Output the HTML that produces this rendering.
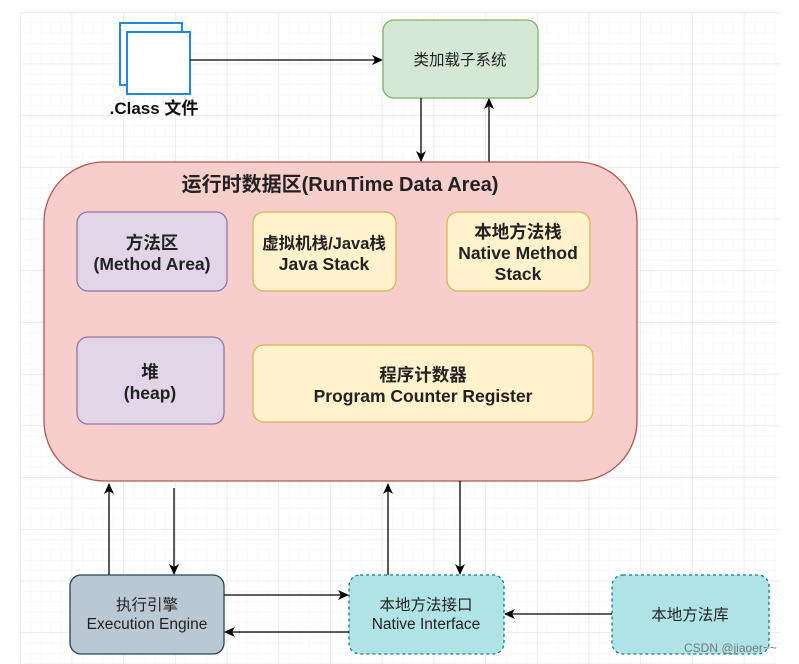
<!DOCTYPE html>
<html><head><meta charset="utf-8"><style>
html,body{margin:0;padding:0;background:#fff;}
svg{display:block;font-family:"Liberation Sans","Noto Sans CJK SC",sans-serif;}
</style></head><body>
<svg width="799" height="664" viewBox="0 0 799 664" xmlns="http://www.w3.org/2000/svg">
<defs>
<pattern id="minor" x="20" y="12" width="10.34" height="10.34" patternUnits="userSpaceOnUse">
<path d="M0 0V10.34M0 0H10.34" stroke="#f5f5f5" stroke-width="1" fill="none"/>
</pattern>
<pattern id="major" x="20" y="12" width="51.7" height="51.7" patternUnits="userSpaceOnUse">
<path d="M0 0V51.7M0 0H51.7" stroke="#e2e2e2" stroke-width="1" fill="none"/>
</pattern>
<marker id="a" markerWidth="12" markerHeight="12" refX="10" refY="6" orient="auto" markerUnits="userSpaceOnUse">
<path d="M0,1 L11,6 L0,11 L3,6 Z" fill="#000"/>
</marker>
</defs>
<rect x="20" y="12" width="760" height="652" fill="url(#minor)"/>
<rect x="20" y="12" width="760" height="652" fill="url(#major)"/>

<rect x="120" y="23" width="62" height="62" fill="#fff" stroke="#1e88e5" stroke-width="2"/>
<rect x="127" y="32" width="63" height="62" fill="#fff" stroke="#1e88e5" stroke-width="2"/>
<text x="154" y="114" font-size="17" font-weight="bold" text-anchor="middle" fill="#111">.Class 文件</text>
<line x1="190" y1="60" x2="382" y2="60" stroke="#000" stroke-width="1.3" marker-end="url(#a)"/>

<rect x="383" y="20" width="155" height="78" rx="11" fill="#d5e8d4" stroke="#82b366" stroke-width="1.3"/>
<text x="460" y="65" font-size="15.5" text-anchor="middle" fill="#222">类加载子系统</text>
<line x1="421" y1="98" x2="421" y2="161" stroke="#000" stroke-width="1.3" marker-end="url(#a)"/>
<line x1="489" y1="162" x2="489" y2="99" stroke="#000" stroke-width="1.3" marker-end="url(#a)"/>

<rect x="44" y="162" width="593" height="319" rx="60" fill="#f8cecc" stroke="#b85450" stroke-width="1.3"/>
<text x="340" y="191" font-size="20" font-weight="bold" text-anchor="middle" fill="#222">运行时数据区(RunTime Data Area)</text>

<rect x="77" y="212" width="150" height="79" rx="11" fill="#e1d5e7" stroke="#9673a6" stroke-width="1.3"/>
<text x="152" y="249" font-size="17.5" font-weight="bold" text-anchor="middle" fill="#222">方法区</text>
<text x="152" y="270" font-size="17.5" font-weight="bold" text-anchor="middle" fill="#222">(Method Area)</text>

<rect x="253" y="212" width="143" height="79" rx="11" fill="#fff2cc" stroke="#d6b656" stroke-width="1.3"/>
<text x="324" y="249" font-size="16.5" font-weight="bold" text-anchor="middle" fill="#222">虚拟机栈/Java栈</text>
<text x="324" y="270" font-size="17.5" font-weight="bold" text-anchor="middle" fill="#222">Java Stack</text>

<rect x="447" y="212" width="143" height="79" rx="11" fill="#fff2cc" stroke="#d6b656" stroke-width="1.3"/>
<text x="518" y="238" font-size="17.5" font-weight="bold" text-anchor="middle" fill="#222">本地方法栈</text>
<text x="518" y="259" font-size="17.5" font-weight="bold" text-anchor="middle" fill="#222">Native Method</text>
<text x="518" y="280" font-size="17.5" font-weight="bold" text-anchor="middle" fill="#222">Stack</text>

<rect x="77" y="337" width="147" height="87" rx="11" fill="#e1d5e7" stroke="#9673a6" stroke-width="1.3"/>
<text x="150" y="378" font-size="17.5" font-weight="bold" text-anchor="middle" fill="#222">堆</text>
<text x="150" y="399" font-size="17.5" font-weight="bold" text-anchor="middle" fill="#222">(heap)</text>

<rect x="253" y="345" width="340" height="77" rx="11" fill="#fff2cc" stroke="#d6b656" stroke-width="1.3"/>
<text x="423" y="381" font-size="17.5" font-weight="bold" text-anchor="middle" fill="#222">程序计数器</text>
<text x="423" y="402" font-size="17.5" font-weight="bold" text-anchor="middle" fill="#222">Program Counter Register</text>

<line x1="109" y1="575" x2="109" y2="484" stroke="#000" stroke-width="1.3" marker-end="url(#a)"/>
<line x1="174" y1="488" x2="174" y2="574" stroke="#000" stroke-width="1.3" marker-end="url(#a)"/>
<line x1="388" y1="575" x2="388" y2="484" stroke="#000" stroke-width="1.3" marker-end="url(#a)"/>
<line x1="460" y1="481" x2="460" y2="574" stroke="#000" stroke-width="1.3" marker-end="url(#a)"/>

<rect x="70" y="575" width="154" height="79" rx="11" fill="#bac8d3" stroke="#23445d" stroke-width="1.3"/>
<text x="147" y="610" font-size="15.5" text-anchor="middle" fill="#222">执行引擎</text>
<text x="147" y="629" font-size="15.5" text-anchor="middle" fill="#222">Execution Engine</text>

<rect x="349" y="575" width="155" height="79" rx="11" fill="#b0e3e6" stroke="#0e8088" stroke-width="1.3" stroke-dasharray="3,3"/>
<text x="426" y="610" font-size="15.5" text-anchor="middle" fill="#222">本地方法接口</text>
<text x="426" y="629" font-size="15.5" text-anchor="middle" fill="#222">Native Interface</text>

<rect x="612" y="575" width="157" height="79" rx="11" fill="#b0e3e6" stroke="#0e8088" stroke-width="1.3" stroke-dasharray="3,3"/>
<text x="690" y="620" font-size="15.5" text-anchor="middle" fill="#222">本地方法库</text>

<line x1="224" y1="595" x2="348" y2="595" stroke="#000" stroke-width="1.3" marker-end="url(#a)"/>
<line x1="349" y1="632" x2="225" y2="632" stroke="#000" stroke-width="1.3" marker-end="url(#a)"/>
<line x1="612" y1="614" x2="505" y2="614" stroke="#000" stroke-width="1.3" marker-end="url(#a)"/>

<text x="684" y="652" font-size="12" fill="#777">CSDN @jiaoer~~</text>
</svg>
</body></html>
